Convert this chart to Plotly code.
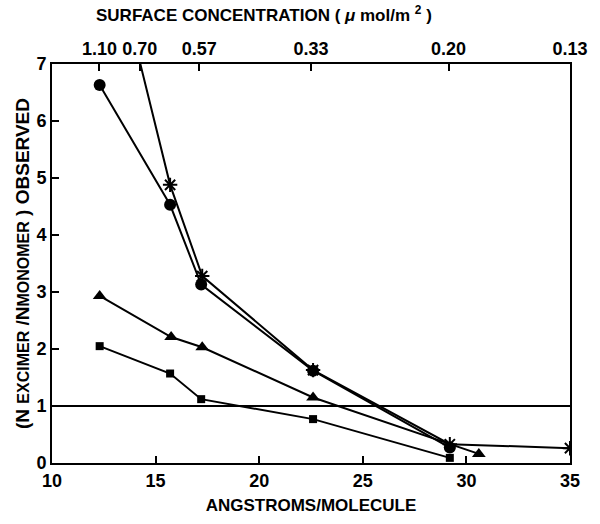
import plotly.graph_objects as go

# Data
area = [12.3, 15.7, 17.2, 22.6, 29.2]
circle_y = [6.63, 4.53, 3.13, 1.62, 0.27]
star_x = [12.3, 15.7, 17.25, 22.6, 29.2, 35.0]
star_y = [9.9, 4.88, 3.28, 1.63, 0.33, 0.26]
tri_x = [12.3, 15.75, 17.25, 22.6, 30.6]
tri_y = [2.93, 2.21, 2.03, 1.15, 0.16]
sq_y = [2.05, 1.57, 1.12, 0.77, 0.09]

bottom_ticks = [10, 15, 20, 25, 30, 35]
top_tick_pos = [12.29, 14.23, 17.11, 22.5, 29.14, 35.0]
top_tick_text = ["1.10", "0.70", "0.57", "0.33", "0.20", "0.13"]
y_ticks = [0, 1, 2, 3, 4, 5, 6, 7]
ref_level = 1

FONT = "Liberation Sans, Arial, sans-serif"
BLACK = "#000000"

fig = go.Figure()

def series(x, y, symbol, size, open_marker=False):
    marker = dict(symbol=symbol, size=size, color=BLACK)
    if open_marker:
        marker["line"] = dict(color=BLACK, width=2)
    fig.add_trace(go.Scatter(x=x, y=y, mode="lines+markers",
                             line=dict(color=BLACK, width=2),
                             marker=marker, showlegend=False))

series(area, circle_y, "circle", 12)
series(star_x, star_y, "asterisk-open", 12, open_marker=True)
series(tri_x, tri_y, "triangle-up", 12)
series(area, sq_y, "square", 8)

# invisible trace to activate the top axis
fig.add_trace(go.Scatter(x=[10, 35], y=[0, 0], xaxis="x2", mode="markers",
                         marker=dict(opacity=0), showlegend=False, hoverinfo="skip"))

fig.add_shape(type="line", xref="paper", x0=0, x1=1, yref="y", y0=ref_level, y1=ref_level,
              line=dict(color=BLACK, width=2))

tickfont = dict(family=FONT, size=18, color=BLACK)
titlefont = dict(family=FONT, size=17, color=BLACK)

ytitle = ("<b>(N <span style='font-size:16px'>EXCIMER</span> /N"
          "<span style='font-size:16px'>MONOMER</span> ) OBSERVED</b>")

fig.add_annotation(text="<b>SURFACE CONCENTRATION ( <i>\u03bc</i> mol/m <sup>2</sup> )</b>",
                   xref="paper", yref="paper", x=0.41, y=1.0, yshift=50,
                   xanchor="center", yanchor="middle", showarrow=False,
                   font=dict(family=FONT, size=17, color=BLACK))

fig.update_layout(
    width=600, height=524,
    margin=dict(l=52, r=15, t=64, b=59),
    paper_bgcolor="white", plot_bgcolor="white",
    font=dict(family=FONT, color=BLACK),
    xaxis=dict(range=[10, 35], tickvals=bottom_ticks,
               ticktext=[f"<b>{t}</b>" for t in bottom_ticks],
               ticks="inside", ticklen=7, tickwidth=2, tickcolor=BLACK,
               showline=True, linewidth=2, linecolor=BLACK, showgrid=False,
               zeroline=False, tickfont=tickfont,
               title=dict(text="<b>ANGSTROMS/MOLECULE</b>", font=titlefont, standoff=10)),
    xaxis2=dict(range=[10, 35], overlaying="x", side="top", tickvals=top_tick_pos,
                ticktext=[f"<b>{t}</b>" for t in top_tick_text],
                ticks="inside", ticklen=7, tickwidth=2, tickcolor=BLACK,
                showline=True, linewidth=2, linecolor=BLACK, showgrid=False,
                zeroline=False, tickfont=tickfont),
    yaxis=dict(range=[0, 7], tickvals=y_ticks,
               ticktext=[f"<b>{t}</b>" for t in y_ticks],
               ticks="inside", ticklen=7, tickwidth=2, tickcolor=BLACK,
               showline=True, mirror=True, linewidth=2, linecolor=BLACK,
               showgrid=False, zeroline=False, tickfont=tickfont,
               title=dict(text=ytitle, font=dict(family=FONT, size=19, color=BLACK), standoff=2)),
)

fig.write_html("out.html")
